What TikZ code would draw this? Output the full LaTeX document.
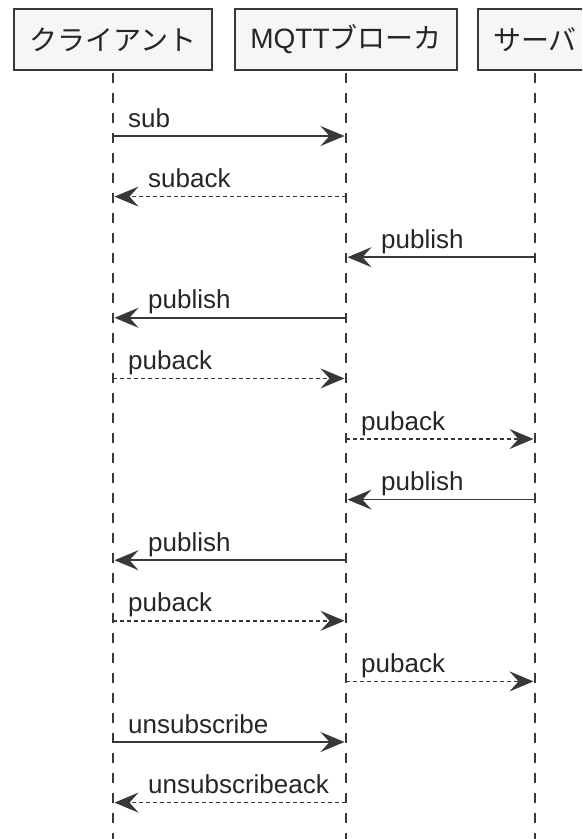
\documentclass[tikz,border=0pt]{standalone}
\usepackage{fontspec}
\setmainfont{Liberation Sans}
\newfontfamily\cjk{Noto Sans CJK JP}
\usetikzlibrary{arrows.meta}
\definecolor{ink}{HTML}{383838}
\definecolor{boxfill}{HTML}{F6F6F6}
\tikzset{
  participant/.style={draw=ink, line width=2pt, fill=boxfill, minimum height=61pt,
    inner sep=0pt, font=\fontsize{28}{30}\selectfont, text=black!85},
  lifeline/.style={draw=ink, line width=1.3pt, dash pattern=on 10pt off 10pt},
  msg/.style={draw=ink, line width=1.6pt, shorten >=1.5pt,
    -{Stealth[length=24pt,width=20pt,inset=9pt]}},
  reply/.style={msg, dash pattern=on 4pt off 3pt},
  lbl/.style={anchor=base west, inner sep=0pt, font=\fontsize{26}{28}\selectfont, text=black!85},
}
\begin{document}
\begin{tikzpicture}[x=1pt, y=-1pt]
  \useasboundingbox (0,0) rectangle (582,839);
  \clip (0,0) rectangle (582,839);
  \coordinate (bottom) at (0,839);

  % participants
  \node[participant, minimum width=198pt] (C) at (113,39.5) {\cjk クライアント};
  \node[participant, minimum width=222pt] (B) at (346,39.5) {MQTT{\cjk ブローカ}};
  \node[participant, minimum width=115pt] (S) at (535,39.5) {\cjk サーバ};

  % lifelines
  \foreach \p in {C,B,S}
    \draw[lifeline] ([yshift=-2pt]\p.south) -- (\p |- bottom);

  % messages: row / source / target / style / left lifeline / label offset / label
  \foreach \i/\src/\dst/\kind/\lft/\off/\txt in {
      0/C/B/msg/C/15/sub,
      1/B/C/reply/C/35/suback,
      2/S/B/msg/B/35/publish,
      3/B/C/msg/C/35/publish,
      4/C/B/reply/C/15/puback,
      5/B/S/reply/B/15/puback,
      6/S/B/msg/B/35/publish,
      7/B/C/msg/C/35/publish,
      8/C/B/reply/C/15/puback,
      9/B/S/reply/B/15/puback,
      10/C/B/msg/C/15/unsubscribe,
      11/B/C/reply/C/35/unsubscribeack}
  {
    \coordinate (r\i) at (0,{136+60.6*\i});
    \draw[\kind] (\src |- r\i) -- (\dst |- r\i);
    \node[lbl] (t\i) at ([xshift=\off pt, yshift=9pt]\lft |- r\i) {\txt};
  }
\end{tikzpicture}
\end{document}
